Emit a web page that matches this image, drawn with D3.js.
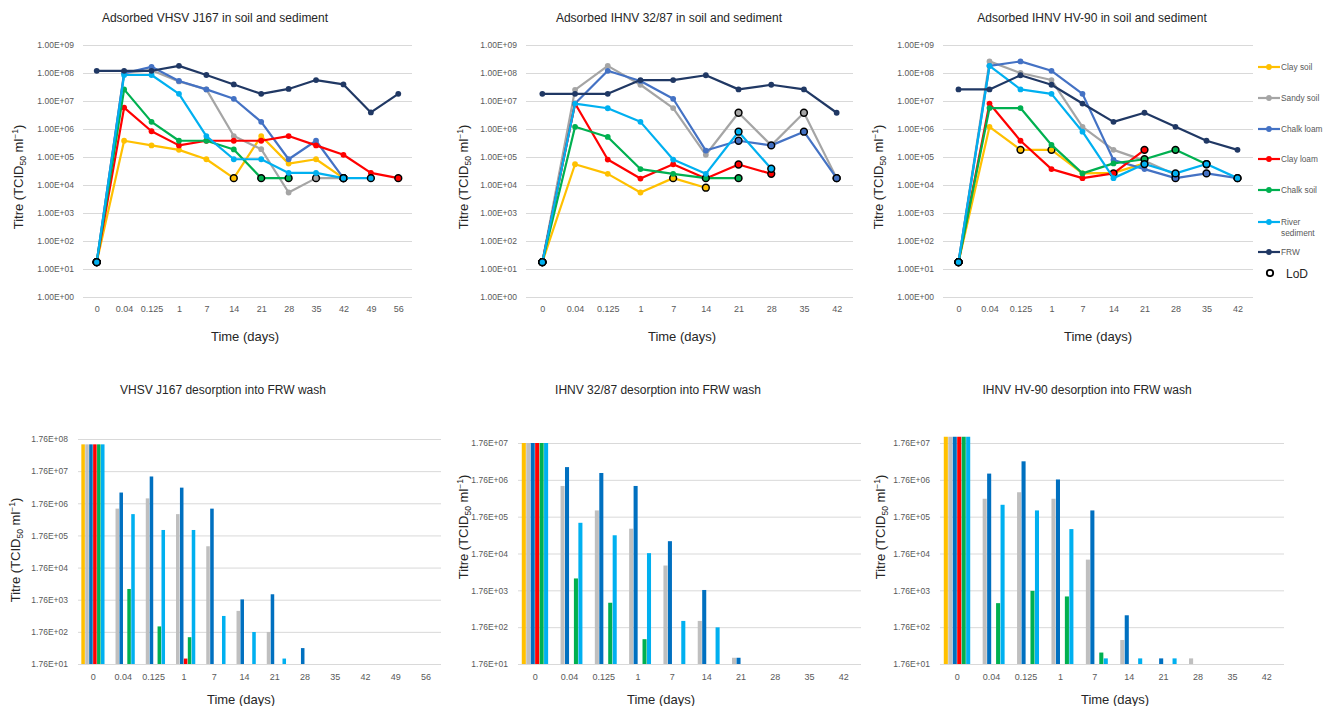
<!DOCTYPE html>
<html><head><meta charset="utf-8">
<script src="https://cdn.jsdelivr.net/npm/d3@7"></script>
<style>
body{margin:0;background:#fff;}
svg{display:block;font-family:"Liberation Sans",Arial,sans-serif;}
</style>
</head><body>
<svg id="c" width="1324" height="706"></svg>
<script>
// ---------- shared ----------
const seriesNames = ["Clay soil","Sandy soil","Chalk loam","Clay loam","Chalk soil","River sediment","FRW"];
const lineColors  = ["#FFC000","#A5A5A5","#4472C4","#FF0000","#00B050","#00B0F0","#203864"];
const barColors   = ["#FFC000","#BFBFBF","#0070C0","#FF0000","#00B050","#00B0F0"];
const daysLong  = ["0","0.04","0.125","1","7","14","21","28","35","42","49","56"];
const daysShort = ["0","0.04","0.125","1","7","14","21","28","35","42"];
const yTicksLine = [1,1e1,1e2,1e3,1e4,1e5,1e6,1e7,1e8,1e9];
const yTicksBar8 = [1.76e1,1.76e2,1.76e3,1.76e4,1.76e5,1.76e6,1.76e7,1.76e8];
const yTicksBar7 = [1.76e1,1.76e2,1.76e3,1.76e4,1.76e5,1.76e6,1.76e7];

// ---------- Panel A: Adsorbed VHSV J167 ----------
const A_claySoil  = [17.6,3.8e5,2.6e5,1.8e5,8.3e4,1.76e4,5.6e5,5.8e4,8.3e4,1.76e4,null,null];
const A_sandySoil = [17.6,1.0e8,1.26e8,5.0e7,2.6e7,5.6e5,1.9e5,5.4e3,1.76e4,1.76e4,null,null];
const A_chalkLoam = [17.6,9.8e7,1.66e8,5.2e7,2.6e7,1.2e7,1.8e6,8.3e4,3.8e5,1.76e4,null,null];
const A_clayLoam  = [17.6,5.8e6,8.3e5,2.6e5,3.8e5,3.8e5,3.8e5,5.6e5,2.6e5,1.2e5,2.7e4,1.76e4];
const A_chalkSoil = [17.6,2.6e7,1.8e6,3.8e5,3.8e5,1.86e5,1.76e4,1.76e4,null,null,null,null];
const A_river     = [17.6,8.5e7,8.5e7,1.8e7,5.6e5,8.3e4,8.3e4,2.7e4,2.7e4,1.76e4,1.76e4,null];
const A_FRW       = [1.2e8,1.2e8,1.2e8,1.8e8,8.5e7,3.9e7,1.8e7,2.7e7,5.6e7,3.9e7,3.9e6,1.8e7];
const A_lod = [[0,5,9],[0,8,9],[0,9],[0,11],[0,6,7],[0,9,10],[]];

// ---------- Panel B: Adsorbed IHNV 32/87 ----------
const B_claySoil  = [17.6,5.5e4,2.5e4,5.4e3,1.76e4,8.0e3,null,null,null,null];
const B_sandySoil = [17.6,2.5e7,1.8e8,3.8e7,5.6e6,1.2e5,3.8e6,2.6e5,3.8e6,1.76e4];
const B_chalkLoam = [17.6,8.1e6,1.2e8,5.2e7,1.2e7,1.7e5,3.8e5,2.6e5,8.0e5,1.76e4];
const B_clayLoam  = [17.6,8.1e6,8.1e4,1.7e4,5.5e4,1.7e4,5.4e4,2.5e4,null,null];
const B_chalkSoil = [17.6,1.2e6,5.2e5,3.7e4,2.5e4,1.76e4,1.76e4,null,null,null];
const B_river     = [17.6,8.1e6,5.5e6,1.8e6,8.1e4,2.5e4,8.0e5,3.8e4,null,null];
const B_FRW       = [1.8e7,1.8e7,1.8e7,5.6e7,5.6e7,8.3e7,2.6e7,3.8e7,2.6e7,3.8e6];
const B_lod = [[0,4,5],[0,6,8,9],[0,6,7,8,9],[0,6,7],[0,5,6],[0,6,7],[]];

// ---------- Panel C: Adsorbed IHNV HV-90 ----------
const C_claySoil  = [17.6,1.2e6,1.8e5,1.8e5,2.6e4,2.7e4,5.9e4,null,null,null];
const C_sandySoil = [17.6,2.6e8,1.0e8,5.6e7,1.2e6,1.8e5,7.4e4,2.3e4,null,null];
const C_chalkLoam = [17.6,1.8e8,2.6e8,1.2e8,1.8e7,7.8e4,3.7e4,1.76e4,2.6e4,1.76e4];
const C_clayLoam  = [17.6,8.1e6,3.8e5,3.7e4,1.76e4,2.6e4,1.8e5,null,null,null];
const C_chalkSoil = [17.6,5.6e6,5.6e6,2.7e5,2.6e4,5.9e4,8.3e4,1.8e5,5.5e4,null];
const C_river     = [17.6,1.8e8,2.6e7,1.8e7,8.0e5,1.76e4,5.6e4,2.6e4,5.6e4,1.76e4];
const C_FRW       = [2.6e7,2.6e7,8.3e7,3.8e7,8.1e6,1.8e6,3.8e6,1.2e6,3.8e5,1.8e5];
const C_lod = [[0,2,3],[0,7],[0,7,8,9],[0,5,6],[0,6,7,8],[0,6,7,8,9],[]];

// ---------- Panel D: VHSV J167 desorption (bars) ----------
const D_claySoil  = [1.2e8,null,null,null,null,null,null,null,null,null,null,null];
const D_sandySoil = [1.2e8,1.2e6,2.5e6,8.1e5,8.1e4,7.9e2,1.74e2,null,null,null,null,null];
const D_chalkLoam = [1.2e8,3.8e6,1.2e7,5.4e6,1.2e6,1.8e3,2.6e3,55,null,null,null,null];
const D_clayLoam  = [1.2e8,null,null,26,null,null,null,null,null,null,null,null];
const D_chalkSoil = [1.2e8,3.8e3,2.6e2,1.2e2,null,null,null,null,null,null,null,null];
const D_river     = [1.2e8,8.1e5,2.6e5,2.6e5,5.5e2,1.74e2,26,null,null,null,null,null];

// ---------- Panel E: IHNV 32/87 desorption (bars) ----------
const E_claySoil  = [1.76e7,null,null,null,null,null,null,null,null,null];
const E_sandySoil = [1.76e7,1.2e6,2.6e5,8.3e4,8.3e3,2.6e2,26,null,null,null];
const E_chalkLoam = [1.76e7,3.9e6,2.7e6,1.2e6,3.8e4,1.8e3,26,null,null,null];
const E_clayLoam  = [1.76e7,null,null,null,null,null,null,null,null,null];
const E_chalkSoil = [1.76e7,3.7e3,8.1e2,83,null,null,null,null,null,null];
const E_river     = [1.76e7,1.2e5,5.5e4,1.8e4,2.6e2,1.74e2,null,null,null,null];

// ---------- Panel F: IHNV HV-90 desorption (bars) ----------
const F_claySoil  = [2.6e7,null,null,null,null,null,null,null,null,null];
const F_sandySoil = [2.6e7,5.4e5,8.1e5,5.4e5,1.2e4,79,null,25,null,null];
const F_chalkLoam = [2.6e7,2.6e6,5.6e6,1.8e6,2.6e5,3.7e2,25,null,null,null];
const F_clayLoam  = [2.6e7,null,null,null,null,null,null,null,null,null];
const F_chalkSoil = [2.6e7,7.9e2,1.7e3,1.2e3,36,null,null,null,null,null];
const F_river     = [2.6e7,3.7e5,2.6e5,8.1e4,25,25,25,null,null,null];

// ---------- helpers ----------
const svg = d3.select("#c");
function fmtE(v){
  const [m,e] = v.toExponential(2).split("e");
  const ei = +e;
  return m + "E" + (ei<0?"-":"+") + String(Math.abs(ei)).padStart(2,"0");
}
function title(txt,x,y,size){
  svg.append("text").attr("x",x).attr("y",y).attr("text-anchor","middle")
    .attr("font-size",size||12).attr("fill","#262626").text(txt);
}
function yTitle(x,y){
  const t = svg.append("text").attr("transform",`translate(${x},${y}) rotate(-90)`)
    .attr("text-anchor","middle").attr("font-size",13).attr("fill","#262626");
  t.append("tspan").text("Titre (TCID");
  t.append("tspan").attr("font-size",8.5).attr("dy",3).text("50");
  t.append("tspan").attr("dy",-3).text(" ml");
  t.append("tspan").attr("font-size",8.5).attr("dy",-5).text("\u22121");
  t.append("tspan").attr("dy",5).text(")");
}
function styleYAxis(g){
  g.select(".domain").remove();
  g.selectAll(".tick line").attr("stroke","#D9D9D9").attr("stroke-width",1);
  g.selectAll(".tick text").attr("fill","#595959").attr("font-size",8.5);
}
function styleXAxis(g){
  g.select(".domain").remove();
  g.selectAll(".tick text").attr("fill","#595959").attr("font-size",9);
}

function linePanel(cfg){
  const x = d3.scalePoint().domain(cfg.cats).range(cfg.xr).padding(0.5);
  const y = d3.scaleLog().domain([1,1e9]).range([297,45]);
  const gy = svg.append("g").attr("transform",`translate(${cfg.xr[0]},0)`)
    .call(d3.axisLeft(y).tickValues(yTicksLine).tickFormat(fmtE)
      .tickSize(-(cfg.xr[1]-cfg.xr[0])).tickPadding(9));
  styleYAxis(gy);
  const gx = svg.append("g").attr("transform","translate(0,297)")
    .call(d3.axisBottom(x).tickSize(0).tickPadding(9));
  styleXAxis(gx);
  const line = d3.line().defined(d=>d.v!=null).x(d=>x(d.c)).y(d=>y(d.v));
  cfg.series.forEach((vals,si)=>{
    const pts = vals.map((v,i)=>({c:cfg.cats[i],v:v,i:i}));
    const g = svg.append("g");
    g.append("path").datum(pts).attr("d",line).attr("fill","none")
      .attr("stroke",lineColors[si]).attr("stroke-width",2.2).attr("stroke-linejoin","round");
    const lod = cfg.lod[si];
    g.selectAll("circle").data(pts.filter(d=>d.v!=null)).join("circle")
      .attr("cx",d=>x(d.c)).attr("cy",d=>y(d.v))
      .attr("r",d=>lod.includes(d.i)?3.4:2.9)
      .attr("fill",lineColors[si])
      .attr("stroke",d=>lod.includes(d.i)?"#000":"none")
      .attr("stroke-width",1.5);
  });
  title(cfg.title,cfg.tx,21.5);
  title("Time (days)",cfg.xtx,340.5,13);
  yTitle(cfg.ytx,177);
}

function barPanel(cfg){
  const x0 = d3.scaleBand().domain(cfg.cats).range(cfg.xr).paddingInner(0.22).paddingOuter(0.11);
  const x1 = d3.scaleBand().domain(d3.range(6)).range([0,x0.bandwidth()]);
  const y = d3.scaleLog().domain([1.76e1,cfg.top]).range([664,cfg.yTop]);
  const gy = svg.append("g").attr("transform",`translate(${cfg.xr[0]},0)`)
    .call(d3.axisLeft(y).tickValues(cfg.ticks).tickFormat(fmtE)
      .tickSize(-(cfg.xr[1]-cfg.xr[0])).tickPadding(10));
  styleYAxis(gy);
  const gx = svg.append("g").attr("transform","translate(0,664)")
    .call(d3.axisBottom(x0).tickSize(0).tickPadding(10));
  styleXAxis(gx);
  cfg.series.forEach((vals,si)=>{
    const pts = vals.map((v,i)=>({c:cfg.cats[i],v:v})).filter(d=>d.v!=null);
    svg.append("g").selectAll("rect").data(pts).join("rect")
      .attr("x",d=>x0(d.c)+x1(si)).attr("width",x1.bandwidth()-0.4)
      .attr("y",d=>y(d.v)).attr("height",d=>664-y(d.v))
      .attr("fill",barColors[si]);
  });
  title(cfg.title,cfg.tx,394);
  title("Time (days)",cfg.xtx,703.5,13);
  yTitle(cfg.ytx,cfg.yty);
}

// ---------- draw ----------
linePanel({cats:daysLong,xr:[83,412],
  series:[A_claySoil,A_sandySoil,A_chalkLoam,A_clayLoam,A_chalkSoil,A_river,A_FRW],
  lod:A_lod,title:"Adsorbed VHSV J167 in soil and sediment",tx:215,xtx:245,ytx:23});
linePanel({cats:daysShort,xr:[526,853],
  series:[B_claySoil,B_sandySoil,B_chalkLoam,B_clayLoam,B_chalkSoil,B_river,B_FRW],
  lod:B_lod,title:"Adsorbed IHNV 32/87 in soil and sediment",tx:669,xtx:682,ytx:468});
linePanel({cats:daysShort,xr:[943,1253],
  series:[C_claySoil,C_sandySoil,C_chalkLoam,C_clayLoam,C_chalkSoil,C_river,C_FRW],
  lod:C_lod,title:"Adsorbed IHNV HV-90 in soil and sediment",tx:1092,xtx:1098,ytx:883});

barPanel({cats:daysLong,xr:[78,441],top:1.76e8,yTop:439,ticks:yTicksBar8,
  series:[D_claySoil,D_sandySoil,D_chalkLoam,D_clayLoam,D_chalkSoil,D_river],
  title:"VHSV J167 desorption into FRW wash",tx:223,xtx:241,ytx:20,yty:550});
barPanel({cats:daysShort,xr:[518,861],top:1.76e7,yTop:443,ticks:yTicksBar7,
  series:[E_claySoil,E_sandySoil,E_chalkLoam,E_clayLoam,E_chalkSoil,E_river],
  title:"IHNV 32/87 desorption into FRW wash",tx:658,xtx:661,ytx:468,yty:527});
barPanel({cats:daysShort,xr:[940,1284],top:1.76e7,yTop:443,ticks:yTicksBar7,
  series:[F_claySoil,F_sandySoil,F_chalkLoam,F_clayLoam,F_chalkSoil,F_river],
  title:"IHNV HV-90 desorption into FRW wash",tx:1087,xtx:1115,ytx:885,yty:527});

// ---------- legend ----------
const legY = [67,98,129,159,190,222,252];
const leg = svg.append("g");
seriesNames.forEach((n,i)=>{
  const g = leg.append("g").attr("transform",`translate(0,${legY[i]})`);
  g.append("line").attr("x1",1258).attr("x2",1280).attr("stroke",lineColors[i]).attr("stroke-width",2.2);
  g.append("circle").attr("cx",1269).attr("r",2.9).attr("fill",lineColors[i]);
  if(n==="River sediment"){
    g.append("text").attr("x",1281).attr("y",3).attr("font-size",8.3).attr("fill","#595959").text("River");
    g.append("text").attr("x",1281).attr("y",14).attr("font-size",8.3).attr("fill","#595959").text("sediment");
  } else {
    g.append("text").attr("x",1281).attr("y",3).attr("font-size",8.3).attr("fill","#595959").text(n);
  }
});
leg.append("circle").attr("cx",1270).attr("cy",273).attr("r",3.2).attr("fill","#fff").attr("stroke","#000").attr("stroke-width",1.8);
leg.append("text").attr("x",1286).attr("y",277.5).attr("font-size",12).attr("fill","#262626").text("LoD");
</script>
</body></html>
